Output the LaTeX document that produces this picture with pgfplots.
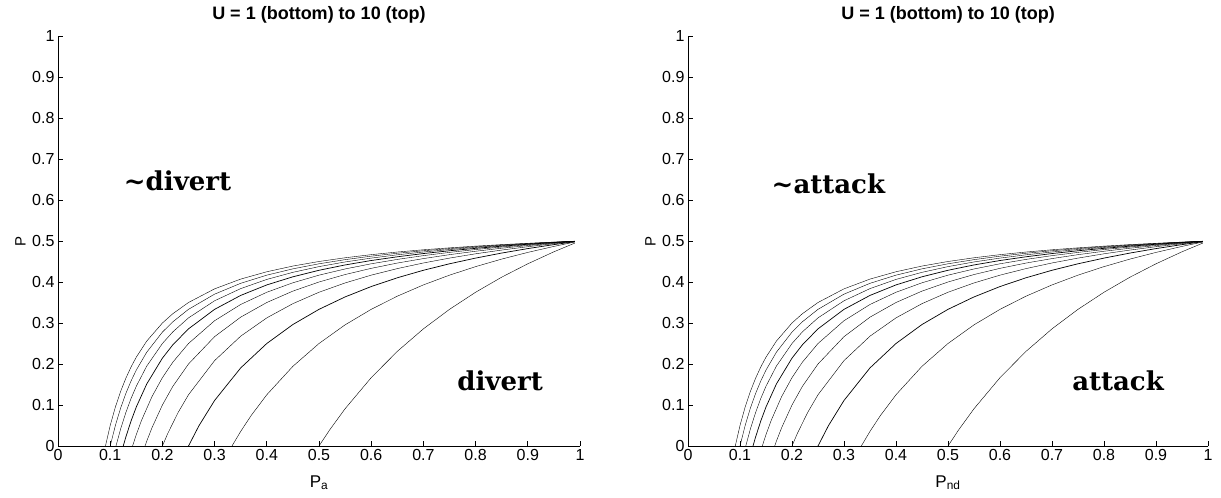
\documentclass[border=0pt]{standalone}
\usepackage{fontspec}
\setmainfont{Liberation Sans}
\newfontfamily\annfont{DejaVu Serif}
\usepackage{pgfplots}
\usepackage{pgfplotstable}
\pgfplotsset{compat=1.18}

\pgfplotstableread{
x y
0.5 0
0.52 0.0385
0.55 0.0909
0.6 0.1667
0.65 0.2308
0.7 0.2857
0.75 0.3333
0.8 0.375
0.85 0.4118
0.9 0.4444
0.95 0.4737
0.99 0.4949
}\tUa
\pgfplotstableread{
x y
0.3333 0
0.35 0.0357
0.37 0.0743
0.4 0.125
0.45 0.1944
0.5 0.25
0.55 0.2955
0.6 0.3333
0.65 0.3654
0.7 0.3929
0.75 0.4167
0.8 0.4375
0.85 0.4559
0.9 0.4722
0.95 0.4868
0.99 0.4975
}\tUb
\pgfplotstableread{
x y
0.25 0
0.27 0.0494
0.3 0.1111
0.35 0.1905
0.4 0.25
0.45 0.2963
0.5 0.3333
0.55 0.3636
0.6 0.3889
0.65 0.4103
0.7 0.4286
0.75 0.4444
0.8 0.4583
0.85 0.4706
0.9 0.4815
0.95 0.4912
0.99 0.4983
}\tUc
\pgfplotstableread{
x y
0.2 0
0.21 0.0298
0.23 0.0815
0.25 0.125
0.3 0.2083
0.35 0.2679
0.4 0.3125
0.45 0.3472
0.5 0.375
0.55 0.3977
0.6 0.4167
0.65 0.4327
0.7 0.4464
0.75 0.4583
0.8 0.4688
0.85 0.4779
0.9 0.4861
0.95 0.4934
0.99 0.4987
}\tUd
\pgfplotstableread{
x y
0.1667 0
0.17 0.0118
0.18 0.0444
0.2 0.1
0.22 0.1455
0.25 0.2
0.3 0.2667
0.35 0.3143
0.4 0.35
0.45 0.3778
0.5 0.4
0.55 0.4182
0.6 0.4333
0.65 0.4462
0.7 0.4571
0.75 0.4667
0.8 0.475
0.85 0.4824
0.9 0.4889
0.95 0.4947
0.99 0.4990
}\tUe
\pgfplotstableread{
x y
0.1429 0
0.15 0.0278
0.16 0.0625
0.18 0.1204
0.2 0.1667
0.22 0.2045
0.25 0.25
0.3 0.3056
0.35 0.3452
0.4 0.375
0.45 0.3981
0.5 0.4167
0.55 0.4318
0.6 0.4444
0.65 0.4551
0.7 0.4643
0.75 0.4722
0.8 0.4792
0.85 0.4853
0.9 0.4907
0.95 0.4956
0.99 0.4992
}\tUf
\pgfplotstableread{
x y
0.125 0
0.13 0.0220
0.14 0.0612
0.15 0.0952
0.17 0.1513
0.2 0.2143
0.22 0.2468
0.25 0.2857
0.3 0.3333
0.35 0.3673
0.4 0.3929
0.45 0.4127
0.5 0.4286
0.55 0.4416
0.6 0.4524
0.65 0.4615
0.7 0.4694
0.75 0.4762
0.8 0.4821
0.85 0.4874
0.9 0.4921
0.95 0.4962
0.99 0.4993
}\tUg
\pgfplotstableread{
x y
0.1111 0
0.12 0.0417
0.13 0.0817
0.14 0.1161
0.15 0.1458
0.17 0.1949
0.2 0.25
0.22 0.2784
0.25 0.3125
0.3 0.3542
0.35 0.3839
0.4 0.4063
0.45 0.4236
0.5 0.4375
0.55 0.4489
0.6 0.4583
0.65 0.4663
0.7 0.4732
0.75 0.4792
0.8 0.4844
0.85 0.4890
0.9 0.4931
0.95 0.4967
0.99 0.4994
}\tUh
\pgfplotstableread{
x y
0.1 0
0.11 0.0505
0.12 0.0926
0.13 0.1282
0.14 0.1587
0.15 0.1852
0.17 0.2288
0.2 0.2778
0.22 0.3030
0.25 0.3333
0.3 0.3704
0.35 0.3968
0.4 0.4167
0.45 0.4321
0.5 0.4444
0.55 0.4545
0.6 0.4630
0.65 0.4701
0.7 0.4762
0.75 0.4815
0.8 0.4861
0.85 0.4902
0.9 0.4938
0.95 0.4971
0.99 0.4994
}\tUi
\pgfplotstableread{
x y
0.0909 0
0.1 0.05
0.11 0.0955
0.12 0.1333
0.13 0.1654
0.14 0.1929
0.15 0.2167
0.17 0.2559
0.2 0.3
0.22 0.3227
0.25 0.35
0.3 0.3833
0.35 0.4071
0.4 0.425
0.45 0.4389
0.5 0.45
0.55 0.4591
0.6 0.4667
0.65 0.4731
0.7 0.4786
0.75 0.4833
0.8 0.4875
0.85 0.4912
0.9 0.4944
0.95 0.4974
0.99 0.4995
}\tUj

\pgfplotsset{
  mypanel/.style={
    scale only axis,
    width=522pt, height=410pt,
    anchor=south west,
    font=\fontsize{16}{18}\selectfont,
    xmin=0, xmax=1, ymin=0, ymax=1,
    xtick={0,0.1,...,1}, ytick={0,0.1,...,1},
    xticklabels={0,0.1,0.2,0.3,0.4,0.5,0.6,0.7,0.8,0.9,1},
    yticklabels={0,0.1,0.2,0.3,0.4,0.5,0.6,0.7,0.8,0.9,1},
    axis x line*=bottom, axis y line*=left,
    axis line style={-, line width=0.8pt},
    tick align=inside,
    major tick length=5pt,
    tick style={black, line width=0.8pt},
    every tick label/.append style={font=\fontsize{16}{18}\selectfont},
    every axis title/.style={font=\bfseries\fontsize{18}{21}\selectfont, at={(0.5,1)}, anchor=south, yshift=9pt},
    title={U = 1 (bottom) to 10 (top)},
    ylabel={P},
    ylabel style={font=\fontsize{15}{17}\selectfont, at={(axis description cs:-0.072,0.5)}, anchor=center, rotate=0},
    xlabel style={font=\fontsize{17}{19}\selectfont, at={(axis description cs:0.5,0)}, anchor=base, yshift=-41pt},
    cycle list={{black, solid, line width=0.7pt, no markers}},
  }
}

\begin{document}
\begin{tikzpicture}
\useasboundingbox (0,0) rectangle (1221pt,498pt);
\begin{axis}[mypanel, at={(58pt,52pt)}, xlabel={P\textsubscript{a}}]
\addplot table {\tUa};
\addplot table {\tUb};
\addplot table {\tUc};
\addplot table {\tUd};
\addplot table {\tUe};
\addplot table {\tUf};
\addplot table {\tUg};
\addplot table {\tUh};
\addplot table {\tUi};
\addplot table {\tUj};
\node[font=\annfont\bfseries\fontsize{26}{30}\selectfont] at (axis cs:0.229,0.647) {\textasciitilde divert};
\node[font=\annfont\bfseries\fontsize{26}{30}\selectfont] at (axis cs:0.847,0.16) {divert};
\end{axis}
\begin{axis}[mypanel, at={(688pt,52pt)}, width=520pt, xlabel={P\textsubscript{nd}}]
\addplot table {\tUa};
\addplot table {\tUb};
\addplot table {\tUc};
\addplot table {\tUd};
\addplot table {\tUe};
\addplot table {\tUf};
\addplot table {\tUg};
\addplot table {\tUh};
\addplot table {\tUi};
\addplot table {\tUj};
\node[font=\annfont\bfseries\fontsize{26}{30}\selectfont] at (axis cs:0.27,0.64) {\textasciitilde attack};
\node[font=\annfont\bfseries\fontsize{26}{30}\selectfont] at (axis cs:0.827,0.16) {attack};
\end{axis}
\end{tikzpicture}
\end{document}
